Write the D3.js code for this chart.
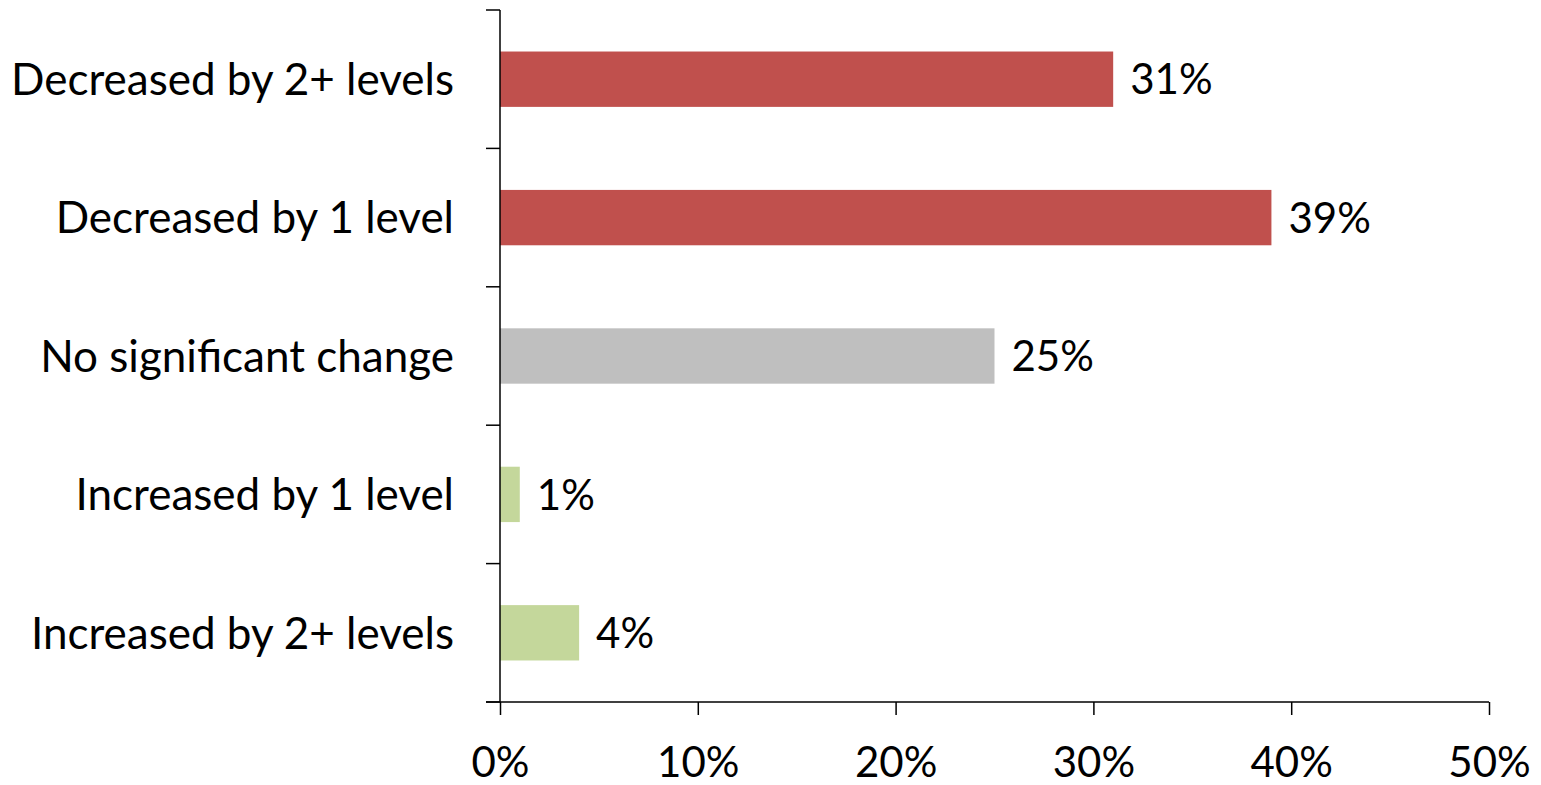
<!DOCTYPE html>
<html lang="en">
<head>
<meta charset="UTF-8">
<title>Level change</title>
<style>
body { margin: 0; background: #fff; }
text { font-family: Lato, "Liberation Sans", sans-serif; fill: #000; }
.axis path, .axis line { stroke: #000; stroke-width: 1.5; }
</style>
</head>
<body>
<svg width="1541" height="785"></svg>
<script src="https://d3js.org/d3.v7.min.js"></script>
<script>
var categories = ["Decreased by 2+ levels", "Decreased by 1 level", "No significant change",
    "Increased by 1 level", "Increased by 2+ levels"];
var values = [31, 39, 25, 1, 4];
var colors = ["#C0504D", "#C0504D", "#BFBFBF", "#C4D79B", "#C4D79B"];
var xTicks = [0, 10, 20, 30, 40, 50];

var svg = d3.select("svg"),
    plotLeft = 500, plotRight = 1489, plotTop = 10, plotBottom = 702;

var x = d3.scaleLinear().domain([0, 50]).range([plotLeft, plotRight]);
var y = d3.scaleBand().domain(categories).range([plotTop, plotBottom])
    .paddingInner(0.6).paddingOuter(0.3);

// bars
svg.selectAll("rect.bar")
    .data(values)
    .enter().append("rect")
    .attr("class", "bar")
    .attr("x", x(0))
    .attr("y", function(d, i) { return y(categories[i]); })
    .attr("width", function(d) { return x(d) - x(0); })
    .attr("height", y.bandwidth())
    .attr("fill", function(d, i) { return colors[i]; });

// value labels
svg.selectAll("text.val")
    .data(values)
    .enter().append("text")
    .attr("class", "val")
    .attr("x", function(d) { return x(d) + 17; })
    .attr("y", function(d, i) { return y(categories[i]) + y.bandwidth() / 2; })
    .attr("dy", "0.36em")
    .style("font-size", "42px")
    .text(function(d) { return d + "%"; });

// x axis
var xAxis = svg.append("g")
    .attr("class", "axis")
    .attr("transform", "translate(0," + plotBottom + ")")
    .call(d3.axisBottom(x).tickValues(xTicks).tickSize(13).tickSizeOuter(0)
        .tickFormat(function(d) { return d + "%"; }));
xAxis.select(".domain").attr("d", "M" + (plotLeft - 14) + ",0H" + plotRight);
xAxis.selectAll("text").style("font-size", "42px").attr("dy", null).attr("y", 75);

// y axis: line + ticks on the band boundaries
var yAxis = svg.append("g").attr("class", "axis");
yAxis.append("path").attr("d", "M" + plotLeft + "," + plotTop + "V" + plotBottom).attr("fill", "none");
var bounds = d3.range(categories.length + 1).map(function(i) {
    return plotTop + i * y.step();
});
yAxis.selectAll("line")
    .data(bounds)
    .enter().append("line")
    .attr("x1", plotLeft - 14).attr("x2", plotLeft)
    .attr("y1", function(d) { return d; }).attr("y2", function(d) { return d; });

// category labels
svg.selectAll("text.cat")
    .data(categories)
    .enter().append("text")
    .attr("class", "cat")
    .attr("x", plotLeft - 46)
    .attr("y", function(d) { return y(d) + y.bandwidth() / 2; })
    .attr("dy", "0.36em")
    .attr("text-anchor", "end")
    .style("font-size", "44px")
    .text(function(d) { return d; });
</script>
</body>
</html>
